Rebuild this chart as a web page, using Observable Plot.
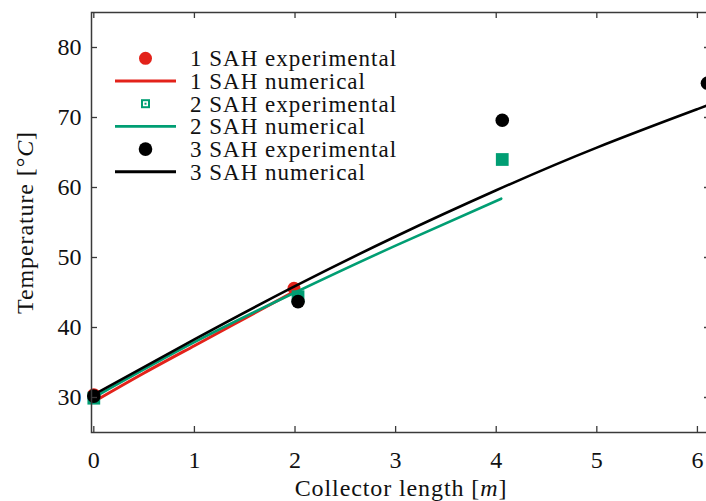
<!DOCTYPE html>
<html><head><meta charset="utf-8">
<script src="https://cdn.jsdelivr.net/npm/d3@7"></script>
<script src="https://cdn.jsdelivr.net/npm/@observablehq/plot@0.6"></script>
<style>
html,body{margin:0;padding:0;background:#fff;overflow:hidden;width:706px;height:501px}
#wrap{position:relative;width:706px;height:501px;overflow:hidden;background:#fff}
#wrap > svg{max-width:none !important;height:501px !important}
#legend{position:absolute;left:0;top:0;pointer-events:none}
</style></head><body><div id="wrap"></div>
<script>
// ---- data ----
const xTicks = [0, 1, 2, 3, 4, 5, 6];
const yTicks = [30, 40, 50, 60, 70, 80];
const xLabel = "Collector length [m]";
const yLabel = "Temperature [°C]";

const sah1ExpX = [0, 1.99];
const sah1ExpY = [30.4, 45.6];
const sah1NumX = [0, 0.5, 1, 1.5, 2.0];
const sah1NumY = [29.4, 33.5, 37.4, 41.3, 45.2];

const sah2ExpX = [0, 2.03, 4.06];
const sah2ExpY = [29.9, 44.4, 64.0];
const sah2NumX = [0, 1, 2, 3, 4.05];
const sah2NumY = [30.0, 37.9, 45.0, 51.7, 58.4];

const sah3ExpX = [0, 2.03, 4.06, 6.1];
const sah3ExpY = [30.2, 43.7, 69.6, 74.9];
const sah3NumX = [0, 1, 2, 3, 4, 5, 6, 6.13];
const sah3NumY = [30.4, 38.3, 45.9, 53.0, 59.6, 65.7, 71.2, 71.9];

const legendLabels = ["1 SAH experimental", "1 SAH numerical", "2 SAH experimental",
                      "2 SAH numerical", "3 SAH experimental", "3 SAH numerical"];

const RED = "#e3221a", GREEN = "#009e73", BLACK = "#000000";

const zip = (xs, ys) => xs.map((x, i) => ({x, y: ys[i]}));

const W = 716, H = 501, mL = 91, mR = 6, mT = 12, mB = 69;
const plotW = W - mL - mR, plotH = H - mT - mB;
const AX = "#3a3a3a";

const svg = Plot.plot({
  width: W, height: H,
  marginLeft: mL, marginRight: mR, marginTop: mT, marginBottom: mB,
  x: {domain: [-0.023, 6.13], ticks: xTicks, tickSize: 0, tickPadding: 18, label: null, tickFormat: d => String(d)},
  y: {domain: [25, 85], ticks: yTicks, tickSize: 0, tickPadding: 10, label: null, tickFormat: d => String(d)},
  style: {fontFamily: "'Liberation Serif', serif", fontSize: "24px", color: "#111", background: "#fff", overflow: "hidden", maxWidth: "none"},
  marks: [
    Plot.dot(zip(sah1ExpX, sah1ExpY), {x: "x", y: "y", r: 6.5, fill: RED, stroke: "none"}),
    Plot.line(zip(sah1NumX, sah1NumY), {x: "x", y: "y", stroke: RED, strokeWidth: 3, curve: "natural"}),
    Plot.dot(zip(sah2ExpX, sah2ExpY), {x: "x", y: "y", r: 7.2, symbol: "square", fill: GREEN, stroke: "none"}),
    Plot.line(zip(sah2NumX, sah2NumY), {x: "x", y: "y", stroke: GREEN, strokeWidth: 2.6, curve: "natural"}),
    Plot.dot(zip(sah3ExpX, sah3ExpY), {x: "x", y: "y", r: 6.8, fill: BLACK, stroke: "none"}),
    Plot.line(zip(sah3NumX, sah3NumY), {x: "x", y: "y", stroke: BLACK, strokeWidth: 2.6, curve: "natural"}),
    Plot.frame({stroke: AX, strokeWidth: 1.5}),
    Plot.tickX(xTicks, {x: d => d, insetTop: plotH - 6, stroke: AX, strokeWidth: 1.3}),
    Plot.tickX(xTicks, {x: d => d, insetBottom: plotH - 6, stroke: AX, strokeWidth: 1.3}),
    Plot.tickY(yTicks, {y: d => d, insetRight: plotW - 6, stroke: AX, strokeWidth: 1.3}),
    Plot.tickY(yTicks, {y: d => d, insetLeft: plotW - 6, stroke: AX, strokeWidth: 1.3}),
    Plot.text([xLabel], {frameAnchor: "bottom", dy: 56, text: d => d, fontSize: 24, lineAnchor: "middle", textAnchor: "middle", fill: "#111"}),
    Plot.text([yLabel], {frameAnchor: "left", dx: -66, rotate: -90, text: d => d, fontSize: 24, lineAnchor: "middle", textAnchor: "middle", fill: "#111"})
  ]
});
svg.style.maxWidth = "none";
svg.style.width = W + "px";
svg.style.height = H + "px";

// italic math symbols in the axis labels
const S = d3.select(svg);
S.selectAll("text").filter(function () { return this.textContent === xLabel; }).each(function () {
  const t = d3.select(this).attr("letter-spacing", "0.9px");
  t.text(null);
  t.append("tspan").text("Collector length [");
  t.append("tspan").attr("font-style", "italic").text("m");
  t.append("tspan").text("]");
});
S.selectAll("text").filter(function () { return this.textContent === yLabel; }).each(function () {
  const t = d3.select(this).attr("letter-spacing", "0.9px");
  t.text(null);
  t.append("tspan").text("Temperature [°");
  t.append("tspan").attr("font-style", "italic").text("C");
  t.append("tspan").text("]");
});

const wrap = document.getElementById("wrap");
wrap.appendChild(svg);

// ---- legend overlay ----
const lg = d3.select(wrap).append("svg").attr("id", "legend").attr("width", 706).attr("height", 501);
const rowY0 = 58.3, rowStep = 22.7, symX = 145.5, lineX0 = 115, lineX1 = 176, textX = 190;
legendLabels.forEach((lab, i) => {
  const cy = rowY0 + i * rowStep;
  const g = lg.append("g");
  if (i === 0) g.append("circle").attr("cx", symX).attr("cy", cy).attr("r", 6.5).attr("fill", RED);
  if (i === 1) g.append("line").attr("x1", lineX0).attr("x2", lineX1).attr("y1", cy).attr("y2", cy).attr("stroke", RED).attr("stroke-width", 3);
  if (i === 2) {
    g.append("rect").attr("x", symX - 4.5).attr("y", cy - 4.5).attr("width", 9).attr("height", 9).attr("fill", GREEN);
    g.append("rect").attr("x", symX - 2.5).attr("y", cy - 2.5).attr("width", 5).attr("height", 5).attr("fill", "#fff");
    g.append("rect").attr("x", symX - 1).attr("y", cy - 1).attr("width", 2).attr("height", 2).attr("fill", GREEN);
  }
  if (i === 3) g.append("line").attr("x1", lineX0).attr("x2", lineX1).attr("y1", cy).attr("y2", cy).attr("stroke", GREEN).attr("stroke-width", 2.6);
  if (i === 4) g.append("circle").attr("cx", symX).attr("cy", cy).attr("r", 6.8).attr("fill", BLACK);
  if (i === 5) g.append("line").attr("x1", lineX0).attr("x2", lineX1).attr("y1", cy).attr("y2", cy).attr("stroke", BLACK).attr("stroke-width", 3);
  g.append("text").attr("x", textX).attr("y", cy + 8).attr("font-family", "'Liberation Serif', serif")
    .attr("font-size", 23).attr("letter-spacing", "1px").attr("fill", "#111").text(lab);
});
</script>
</body></html>
